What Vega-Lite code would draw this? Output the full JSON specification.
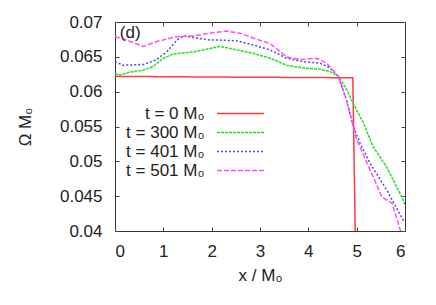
{
  "$schema": "https://vega.github.io/schema/vega-lite/v6.json",
  "width": 290,
  "height": 209,
  "autosize": {"type": "none"},
  "padding": {"left": 115, "top": 22, "right": 31, "bottom": 74},
  "background": "white",
  "config": {
    "view": {"stroke": "#333", "strokeWidth": 1},
    "font": "Liberation Sans",
    "axis": {"grid": false, "domain": false, "tickSize": -4, "tickColor": "#444", "labelFont": "Liberation Sans", "labelFontSize": 17, "labelColor": "#222", "titleFont": "Liberation Sans", "titleFontSize": 17, "titleFontWeight": "normal", "titleColor": "#222"},
    "legend": {"orient": "none", "legendX": 117, "legendY": 83, "symbolType": "M-8,0H8", "symbolSize": 34.5, "symbolStrokeWidth": 1.5, "labelAlign": "right", "labelOffset": -44.5, "rowPadding": 1, "labelFontSize": 17, "labelFont": "Liberation Sans", "labelColor": "#222", "labelLimit": 200}
  },
  "data": {"values": [
    {"s": "t = 0 M₀", "x": 0, "y": 0.0622},
    {"s": "t = 0 M₀", "x": 2, "y": 0.0621},
    {"s": "t = 0 M₀", "x": 4.92, "y": 0.0620},
    {"s": "t = 0 M₀", "x": 4.97, "y": 0.0400},

    {"s": "t = 300 M₀", "x": 0, "y": 0.0626},
    {"s": "t = 300 M₀", "x": 0.1, "y": 0.0624},
    {"s": "t = 300 M₀", "x": 0.31, "y": 0.0628},
    {"s": "t = 300 M₀", "x": 0.59, "y": 0.0631},
    {"s": "t = 300 M₀", "x": 0.79, "y": 0.0636},
    {"s": "t = 300 M₀", "x": 1.0, "y": 0.0648},
    {"s": "t = 300 M₀", "x": 1.2, "y": 0.0654},
    {"s": "t = 300 M₀", "x": 1.62, "y": 0.0657},
    {"s": "t = 300 M₀", "x": 1.97, "y": 0.0662},
    {"s": "t = 300 M₀", "x": 2.17, "y": 0.0665},
    {"s": "t = 300 M₀", "x": 2.38, "y": 0.0662},
    {"s": "t = 300 M₀", "x": 2.52, "y": 0.0660},
    {"s": "t = 300 M₀", "x": 2.86, "y": 0.0655},
    {"s": "t = 300 M₀", "x": 3.21, "y": 0.0648},
    {"s": "t = 300 M₀", "x": 3.55, "y": 0.0638},
    {"s": "t = 300 M₀", "x": 3.9, "y": 0.0634},
    {"s": "t = 300 M₀", "x": 4.24, "y": 0.0632},
    {"s": "t = 300 M₀", "x": 4.45, "y": 0.0629},
    {"s": "t = 300 M₀", "x": 4.62, "y": 0.0622},
    {"s": "t = 300 M₀", "x": 4.78, "y": 0.0605},
    {"s": "t = 300 M₀", "x": 4.93, "y": 0.0583},
    {"s": "t = 300 M₀", "x": 5.14, "y": 0.0555},
    {"s": "t = 300 M₀", "x": 5.34, "y": 0.0521},
    {"s": "t = 300 M₀", "x": 5.62, "y": 0.0492},
    {"s": "t = 300 M₀", "x": 5.96, "y": 0.0445},
    {"s": "t = 300 M₀", "x": 6.0, "y": 0.0438},

    {"s": "t = 401 M₀", "x": 0, "y": 0.0643},
    {"s": "t = 401 M₀", "x": 0.17, "y": 0.0638},
    {"s": "t = 401 M₀", "x": 0.59, "y": 0.0639},
    {"s": "t = 401 M₀", "x": 0.86, "y": 0.0646},
    {"s": "t = 401 M₀", "x": 1.07, "y": 0.0657},
    {"s": "t = 401 M₀", "x": 1.28, "y": 0.0674},
    {"s": "t = 401 M₀", "x": 1.41, "y": 0.0680},
    {"s": "t = 401 M₀", "x": 1.69, "y": 0.0677},
    {"s": "t = 401 M₀", "x": 1.97, "y": 0.0674},
    {"s": "t = 401 M₀", "x": 2.17, "y": 0.0674},
    {"s": "t = 401 M₀", "x": 2.52, "y": 0.0673},
    {"s": "t = 401 M₀", "x": 2.86, "y": 0.0667},
    {"s": "t = 401 M₀", "x": 3.21, "y": 0.0660},
    {"s": "t = 401 M₀", "x": 3.55, "y": 0.0648},
    {"s": "t = 401 M₀", "x": 3.9, "y": 0.0643},
    {"s": "t = 401 M₀", "x": 4.24, "y": 0.0641},
    {"s": "t = 401 M₀", "x": 4.45, "y": 0.0634},
    {"s": "t = 401 M₀", "x": 4.62, "y": 0.0622},
    {"s": "t = 401 M₀", "x": 4.79, "y": 0.0588},
    {"s": "t = 401 M₀", "x": 4.93, "y": 0.0550},
    {"s": "t = 401 M₀", "x": 5.07, "y": 0.0526},
    {"s": "t = 401 M₀", "x": 5.28, "y": 0.0497},
    {"s": "t = 401 M₀", "x": 5.62, "y": 0.0459},
    {"s": "t = 401 M₀", "x": 5.96, "y": 0.0416},
    {"s": "t = 401 M₀", "x": 6.0, "y": 0.0413},

    {"s": "t = 501 M₀", "x": 0, "y": 0.0679},
    {"s": "t = 501 M₀", "x": 0.24, "y": 0.0674},
    {"s": "t = 501 M₀", "x": 0.59, "y": 0.0665},
    {"s": "t = 501 M₀", "x": 0.86, "y": 0.0672},
    {"s": "t = 501 M₀", "x": 1.28, "y": 0.0679},
    {"s": "t = 501 M₀", "x": 1.62, "y": 0.0680},
    {"s": "t = 501 M₀", "x": 1.97, "y": 0.0684},
    {"s": "t = 501 M₀", "x": 2.31, "y": 0.0687},
    {"s": "t = 501 M₀", "x": 2.59, "y": 0.0684},
    {"s": "t = 501 M₀", "x": 2.86, "y": 0.0677},
    {"s": "t = 501 M₀", "x": 3.21, "y": 0.0669},
    {"s": "t = 501 M₀", "x": 3.55, "y": 0.0650},
    {"s": "t = 501 M₀", "x": 3.83, "y": 0.0646},
    {"s": "t = 501 M₀", "x": 4.17, "y": 0.0648},
    {"s": "t = 501 M₀", "x": 4.38, "y": 0.0641},
    {"s": "t = 501 M₀", "x": 4.62, "y": 0.0622},
    {"s": "t = 501 M₀", "x": 4.79, "y": 0.0588},
    {"s": "t = 501 M₀", "x": 4.93, "y": 0.0550},
    {"s": "t = 501 M₀", "x": 5.0, "y": 0.0531},
    {"s": "t = 501 M₀", "x": 5.34, "y": 0.0478},
    {"s": "t = 501 M₀", "x": 5.52, "y": 0.0449},
    {"s": "t = 501 M₀", "x": 5.73, "y": 0.0440},
    {"s": "t = 501 M₀", "x": 5.9, "y": 0.0402},
    {"s": "t = 501 M₀", "x": 5.96, "y": 0.0390}
  ]},
  "layer": [
    {
      "mark": {"type": "line", "clip": true, "strokeWidth": 1.5},
      "encoding": {
        "x": {"field": "x", "type": "quantitative", "scale": {"domain": [0, 6], "nice": false, "zero": false},
              "axis": {"orient": "bottom", "values": [0, 1, 2, 3, 4, 5, 6], "format": "d", "title": "x / M₀", "labelPadding": 16, "titlePadding": 8}},
        "y": {"field": "y", "type": "quantitative", "scale": {"domain": [0.04, 0.07], "nice": false, "zero": false},
              "axis": {"orient": "left", "values": [0.04, 0.045, 0.05, 0.055, 0.06, 0.065, 0.07], "format": "~g", "title": "Ω M₀", "labelPadding": 17, "titlePadding": 25}},
        "color": {"field": "s", "type": "nominal",
                  "scale": {"domain": ["t = 0 M₀", "t = 300 M₀", "t = 401 M₀", "t = 501 M₀"], "range": ["#ff3b3b", "#22e022", "#4848f0", "#ff4cff"]},
                  "legend": {"title": null}},
        "strokeDash": {"field": "s", "type": "nominal",
                  "scale": {"domain": ["t = 0 M₀", "t = 300 M₀", "t = 401 M₀", "t = 501 M₀"], "range": [[1, 0], [3, 1], [2, 2], [5, 2]]},
                  "legend": {"title": null}}
      }
    },
    {
      "data": {"values": [{"label": "(d)"}]},
      "mark": {"type": "text", "align": "left", "baseline": "middle", "fontSize": 17, "font": "Liberation Sans", "color": "#222"},
      "encoding": {
        "text": {"field": "label"},
        "x": {"datum": 0.1, "type": "quantitative", "axis": {"orient": "top", "labels": false, "title": null, "values": [0, 1, 2, 3, 4, 5, 6]}},
        "y": {"datum": 0.0684, "type": "quantitative", "axis": {"orient": "right", "labels": false, "title": null, "values": [0.04, 0.045, 0.05, 0.055, 0.06, 0.065, 0.07]}}
      }
    }
  ]
}
